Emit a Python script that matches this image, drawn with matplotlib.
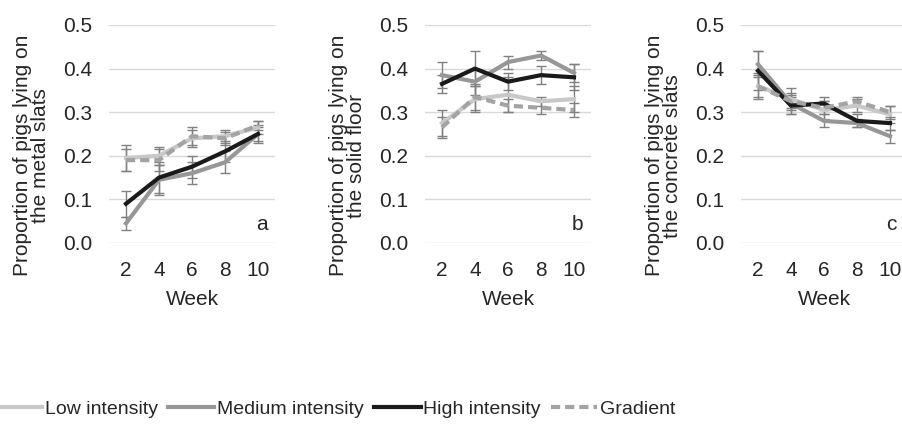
import matplotlib.pyplot as plt

plt.rcParams['font.family'] = ['Liberation Sans', 'DejaVu Sans']

weeks = [2, 4, 6, 8, 10]
series_names = ['Low intensity', 'Medium intensity', 'High intensity', 'Gradient']

# panel a: metal slats
metal_mean = {
    'Low intensity': [0.195, 0.200, 0.240, 0.245, 0.265],
    'Medium intensity': [0.045, 0.145, 0.160, 0.185, 0.250],
    'High intensity': [0.090, 0.150, 0.175, 0.210, 0.250],
    'Gradient': [0.190, 0.190, 0.245, 0.240, 0.270],
}
metal_err = {
    'Low intensity': [0.030, 0.020, 0.020, 0.015, 0.015],
    'Medium intensity': [0.015, 0.035, 0.025, 0.025, 0.015],
    'High intensity': [0.030, 0.035, 0.025, 0.025, 0.020],
    'Gradient': [0.025, 0.025, 0.020, 0.015, 0.010],
}

# panel b: solid floor
solid_mean = {
    'Low intensity': [0.275, 0.330, 0.340, 0.325, 0.330],
    'Medium intensity': [0.385, 0.370, 0.415, 0.430, 0.390],
    'High intensity': [0.365, 0.400, 0.370, 0.385, 0.380],
    'Gradient': [0.265, 0.335, 0.315, 0.310, 0.305],
}
solid_err = {
    'Low intensity': [0.030, 0.030, 0.040, 0.010, 0.030],
    'Medium intensity': [0.030, 0.030, 0.015, 0.010, 0.020],
    'High intensity': [0.020, 0.040, 0.020, 0.020, 0.030],
    'Gradient': [0.025, 0.030, 0.015, 0.015, 0.015],
}

# panel c: concrete slats
concrete_mean = {
    'Low intensity': [0.360, 0.330, 0.305, 0.315, 0.295],
    'Medium intensity': [0.410, 0.320, 0.280, 0.275, 0.245],
    'High intensity': [0.395, 0.315, 0.320, 0.280, 0.275],
    'Gradient': [0.360, 0.325, 0.310, 0.325, 0.300],
}
concrete_err = {
    'Low intensity': [0.030, 0.025, 0.020, 0.015, 0.020],
    'Medium intensity': [0.030, 0.025, 0.015, 0.010, 0.015],
    'High intensity': [0.045, 0.020, 0.015, 0.015, 0.015],
    'Gradient': [0.025, 0.015, 0.015, 0.010, 0.015],
}

panels = [
    ('Proportion of pigs lying on\nthe metal slats', 'a', metal_mean, metal_err),
    ('Proportion of pigs lying on\nthe solid floor', 'b', solid_mean, solid_err),
    ('Proportion of pigs lying on\nthe concrete slats', 'c', concrete_mean, concrete_err),
]

styles = {
    'Low intensity': dict(color='#c8c8c8', linestyle='-'),
    'Medium intensity': dict(color='#979797', linestyle='-'),
    'High intensity': dict(color='#1a1a1a', linestyle='-'),
    'Gradient': dict(color='#a3a3a3', linestyle=(0, (2.2, 1.2))),
}

txt = '#262626'
fig = plt.figure(figsize=(9.02, 4.24), dpi=100)
lefts = [109 / 902, 425 / 902, 741 / 902]
letter_x = [0.92, 0.92, 0.905]
handles = []
for i, (left, (ylabel, letter, means, errs)) in enumerate(zip(lefts, panels)):
    ax = fig.add_axes([left, 1 - 243 / 424, 166 / 902, 218 / 424])
    for name in series_names:
        ax.errorbar(weeks, means[name], yerr=errs[name], fmt='none',
                    ecolor='#808080', elinewidth=1, capsize=3.5, capthick=1, zorder=2)
    for name in series_names:
        ln, = ax.plot(weeks, means[name], linewidth=3, label=name, zorder=3,
                      **styles[name])
        if i == 0:
            handles.append(ln)
    ax.set_xlim(0.97, 11.03)
    ax.set_ylim(0, 0.5)
    ax.set_xticks(weeks)
    ax.set_yticks([0.0, 0.1, 0.2, 0.3, 0.4, 0.5])
    ax.set_yticklabels(['0.0', '0.1', '0.2', '0.3', '0.4', '0.5'])
    ax.tick_params(length=0, labelsize=15, colors=txt)
    ax.tick_params(axis='y', pad=12)
    ax.tick_params(axis='x', pad=13)
    ax.grid(axis='y', color='#d9d9d9', linewidth=1)
    ax.set_axisbelow(True)
    for s in ax.spines.values():
        s.set_visible(False)
    ax.set_xlabel('Week', fontsize=15, color=txt, labelpad=7)
    ax.set_ylabel(ylabel, fontsize=15, color=txt, linespacing=0.95)
    ax.yaxis.set_label_coords(-0.355, 0.40)
    ax.text(letter_x[i], 0.087, letter, transform=ax.transAxes, fontsize=15,
            color=txt, ha='center', va='center')

fig.legend(handles=handles, loc='center', bbox_to_anchor=(0.372, 0.035), ncol=4,
           frameon=False, fontsize=14, handlelength=2.4, columnspacing=0.5,
           handletextpad=0.15, labelcolor=txt)

fig.savefig('out.png', dpi=100)
